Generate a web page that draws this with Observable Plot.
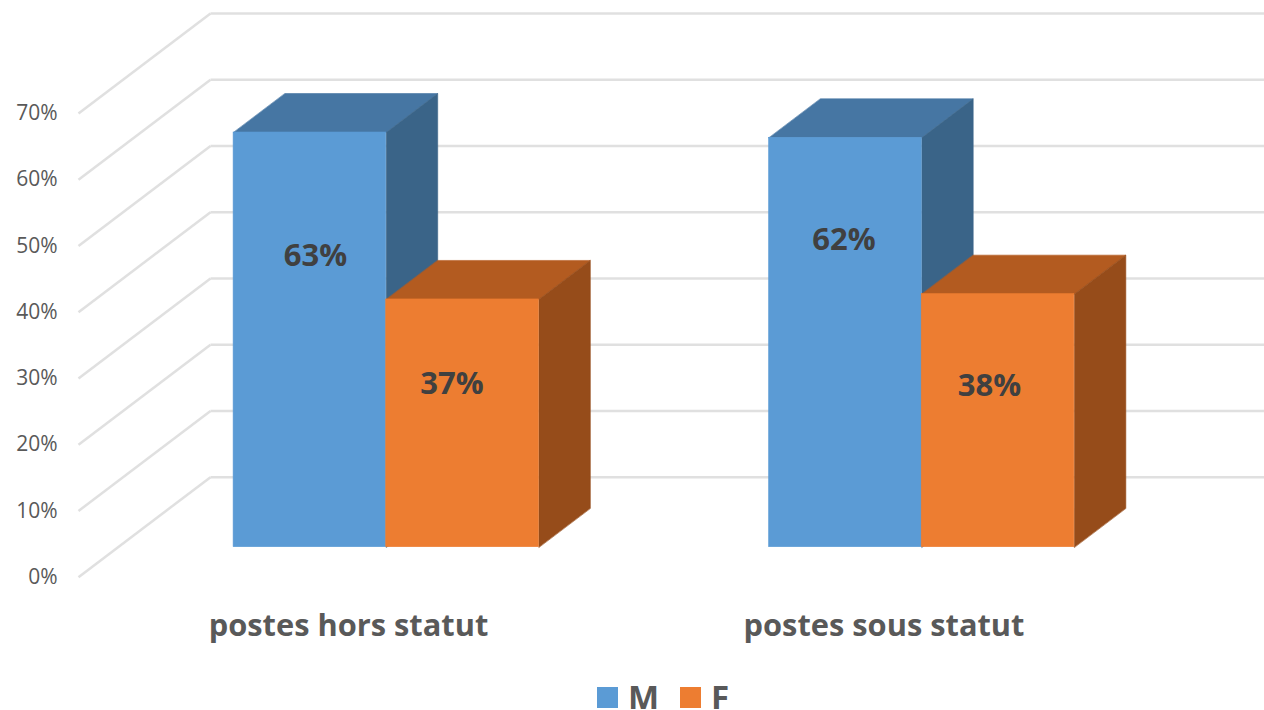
<!DOCTYPE html>
<html><head><meta charset="utf-8">
<script src="https://cdn.jsdelivr.net/npm/d3@7"></script>
<script src="https://cdn.jsdelivr.net/npm/@observablehq/plot@0.6"></script>
<style>
html,body{margin:0;padding:0;background:#fff;overflow:hidden}
#chart svg{display:block}
#legend{height:26px;line-height:26px;display:flex;justify-content:center;align-items:center;font:bold 33px/26px "Open Sans",sans-serif;color:#595959;padding-left:62px}
#legend i{display:inline-block;width:21px;height:21px;margin-right:10px}
#legend span{display:flex;align-items:center;margin:0 10.5px}
</style></head><body><div id="chart"></div><div id="legend"></div>
<script>
const categories = ["postes hors statut","postes sous statut"];
const seriesNames = ["M","F"];
const seriesM = [62.6,61.8];
const seriesF = [37.4,38.2];
const labelLevelM = [48.5,50.9];
const labelLevelF = [29.2,28.9];
const labelShiftM = [0.0103,-0.0028];
const labelShiftF = [-0.0196,-0.016];
const yTicks = [0,10,20,30,40,50,60,70];
const faceColors = {M:["#5B9BD5","#4676A3","#3A6488"],F:["#ED7D31","#B35B20","#964C1A"]};

const depthX = 0.2465, depthY = 15.1;       // full floor depth, in x and y units
const front = 0.30, back = 0.69;            // bar depth range as fraction of floor
const barW = 0.2850, barShift = -0.0035;
const wallLeft = -0.5042, wallRight = 1.72;

const bx = (x,d)=>x+d*depthX, by=(y,d)=>y+d*depthY;
const fronts=[], polys=[], labels=[];
categories.forEach((c,i)=>{
  [seriesM[i],seriesF[i]].forEach((v,s)=>{
    const k=seriesNames[s], x0=i+(s-1)*barW+barShift, x1=x0+barW;
    fronts.push({x1:bx(x0,front),x2:bx(x1,front),y1:by(0,front),y2:by(v,front),fill:faceColors[k][0]});
    const id=c+k;
    const top=[[x0,v,front],[x1,v,front],[x1,v,back],[x0,v,back]];
    const side=[[x1,0,front],[x1,v,front],[x1,v,back],[x1,0,back]];
    top.forEach(p=>polys.push({id:id+"t",x:bx(p[0],p[2]),y:by(p[1],p[2]),fill:faceColors[k][1],order:s}));
    side.forEach(p=>polys.push({id:id+"s",x:bx(p[0],p[2]),y:by(p[1],p[2]),fill:faceColors[k][2],order:s}));
    labels.push({x:bx(x0,front)+barW/2+(s===0?labelShiftM:labelShiftF)[i],y:(s===0?labelLevelM:labelLevelF)[i],text:d3.format(".0f")(v)+"%"});
  });
});
const gridSide=yTicks.map(t=>({x1:bx(wallLeft,0),y1:t,x2:bx(wallLeft,1),y2:by(t,1)}));
const gridBack=yTicks.map(t=>({x1:bx(wallLeft,1),y1:by(t,1),x2:wallRight,y2:by(t,1)}));

const fontFam='"Open Sans",sans-serif';
const polyMark=o=>Plot.line(polys.filter(d=>d.order===o),{x:"x",y:"y",z:"id",fill:"fill",stroke:"fill",strokeWidth:0.6,curve:"linear-closed"});
const rectMark=o=>Plot.rect(fronts.filter((d,i)=>i%2===o),{x1:"x1",x2:"x2",y1:"y1",y2:"y2",fill:"fill",stroke:"fill",strokeWidth:0.6,inset:0});
const chart=Plot.plot({
  width:1264,height:684,margin:0,style:{background:"#fff",fontFamily:fontFam},
  x:{type:"linear",domain:[0,1],range:[348,883.5],axis:null},
  y:{type:"linear",domain:[0,70],range:[576.7,113],axis:null},
  color:{type:"identity"},
  marks:[
    Plot.link(gridSide,{x1:"x1",y1:"y1",x2:"x2",y2:"y2",stroke:"#e0e0e0",strokeWidth:2.5}),
    Plot.link(gridBack,{x1:"x1",y1:"y1",x2:"x2",y2:"y2",stroke:"#e0e0e0",strokeWidth:2.5}),
    Plot.text(yTicks,{x:wallLeft,y:d=>d,text:d=>d+"%",textAnchor:"end",dx:-21,dy:0,fontSize:21,fill:"#595959"}),
    polyMark(0),rectMark(0),
    polyMark(1),rectMark(1),
    Plot.text(labels,{x:"x",y:"y",text:"text",fontSize:31,fontWeight:"bold",fill:"#404040"}),
    Plot.text(categories,{x:(d,i)=>i,y:-7.4,text:d=>d,fontSize:30.8,fontWeight:"bold",fill:"#595959"})
  ]
});
document.getElementById("chart").appendChild(chart);
document.getElementById("legend").innerHTML=seriesNames.map(k=>`<span><i style="background:${faceColors[k][0]}"></i>${k}</span>`).join("");
</script></body></html>
